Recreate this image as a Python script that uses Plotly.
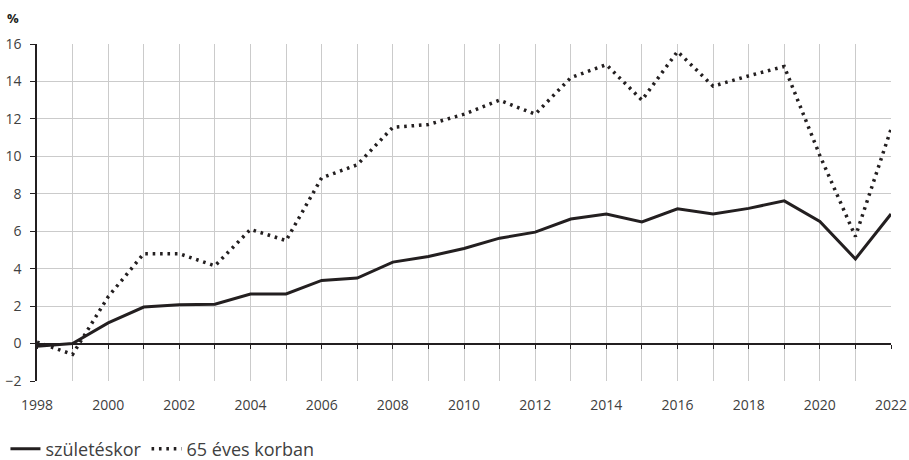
import plotly.graph_objects as go

years = list(range(1998, 2023))
szuleteskor = [-0.15, 0.0, 1.1, 1.95, 2.07, 2.1, 2.65, 2.65, 3.37, 3.5, 4.35, 4.65,
               5.08, 5.63, 5.95, 6.65, 6.92, 6.5, 7.2, 6.92, 7.22, 7.62, 6.52, 4.52, 6.92]
eves65 = [0.08, -0.58, 2.5, 4.8, 4.8, 4.15, 6.1, 5.5, 8.85, 9.55, 11.55, 11.7,
          12.25, 13.0, 12.25, 14.2, 14.9, 13.0, 15.6, 13.75, 14.3, 14.8, 10.05, 5.72, 11.45]
tick_years = list(range(1998, 2023, 2))
tick_labels = [str(y) for y in tick_years]
series_names = ["születéskor", "65 éves korban"]

FONT = "Open Sans"
INK = "#231f20"
GRID = "#cbcbcb"
TXT = "#404040"

fig = go.Figure()
fig.add_trace(go.Scatter(x=years, y=szuleteskor, mode="lines", name=series_names[0],
                         line=dict(color=INK, width=3), hoverinfo="skip"))
fig.add_trace(go.Scatter(x=years, y=eves65, mode="lines", name=series_names[1],
                         line=dict(color=INK, width=3.5, dash="2.6px,4.8px"), hoverinfo="skip"))
# helper trace to host the tick axis at y = 0
fig.add_trace(go.Scatter(x=years, y=szuleteskor, mode="lines", xaxis="x2",
                         line=dict(width=0, color="rgba(0,0,0,0)"), showlegend=False,
                         hoverinfo="skip"))

yr = [-2, 16]
fig.update_layout(
    width=909, height=460,
    margin=dict(l=37, r=18, t=44, b=79, autoexpand=False),
    paper_bgcolor="white", plot_bgcolor="white",
    font=dict(family=FONT, color=TXT, size=13),
    xaxis=dict(range=[1998, 2022], tickvals=tick_years, ticktext=tick_labels,
               showgrid=True, gridcolor=GRID, gridwidth=1, automargin=False,
               minor=dict(dtick=1, tick0=1998, showgrid=True, gridcolor=GRID, gridwidth=1),
               ticks="", showline=False, zeroline=False,
               tickfont=dict(size=14, color=TXT), ticklabelstandoff=14),
    xaxis2=dict(range=[1998, 2022], overlaying="x", anchor="free", automargin=False,
                position=(0 - yr[0]) / (yr[1] - yr[0]),
                dtick=1, tick0=1998, ticks="outside", ticklen=4, tickcolor=INK, tickwidth=1,
                showticklabels=False, showgrid=False, zeroline=False, showline=False),
    yaxis=dict(range=yr, dtick=2, showgrid=True, gridcolor=GRID, gridwidth=1, automargin=False,
               zeroline=True, zerolinecolor=INK, zerolinewidth=1.5,
               showline=True, linecolor=INK, linewidth=1.5,
               ticks="outside", ticklen=5, tickcolor=INK, tickwidth=1,
               tickfont=dict(size=14, color=TXT), ticklabelstandoff=6),
    showlegend=True,
    legend=dict(orientation="h", xref="container", yref="container",
                x=0.006, xanchor="left", y=0.024, yanchor="middle",
                font=dict(size=18, color=TXT), itemwidth=30,
                bgcolor="rgba(0,0,0,0)"),
    annotations=[dict(text="<b>%</b>", xref="paper", yref="paper", x=-0.028, y=1.045,
                      xanchor="center", yanchor="bottom", showarrow=False,
                      font=dict(size=13, color="#231f20"))],
)

fig.write_html("out.html", config={"displayModeBar": False},
               post_script="document.body.style.margin='0';document.body.style.overflow='hidden';")
